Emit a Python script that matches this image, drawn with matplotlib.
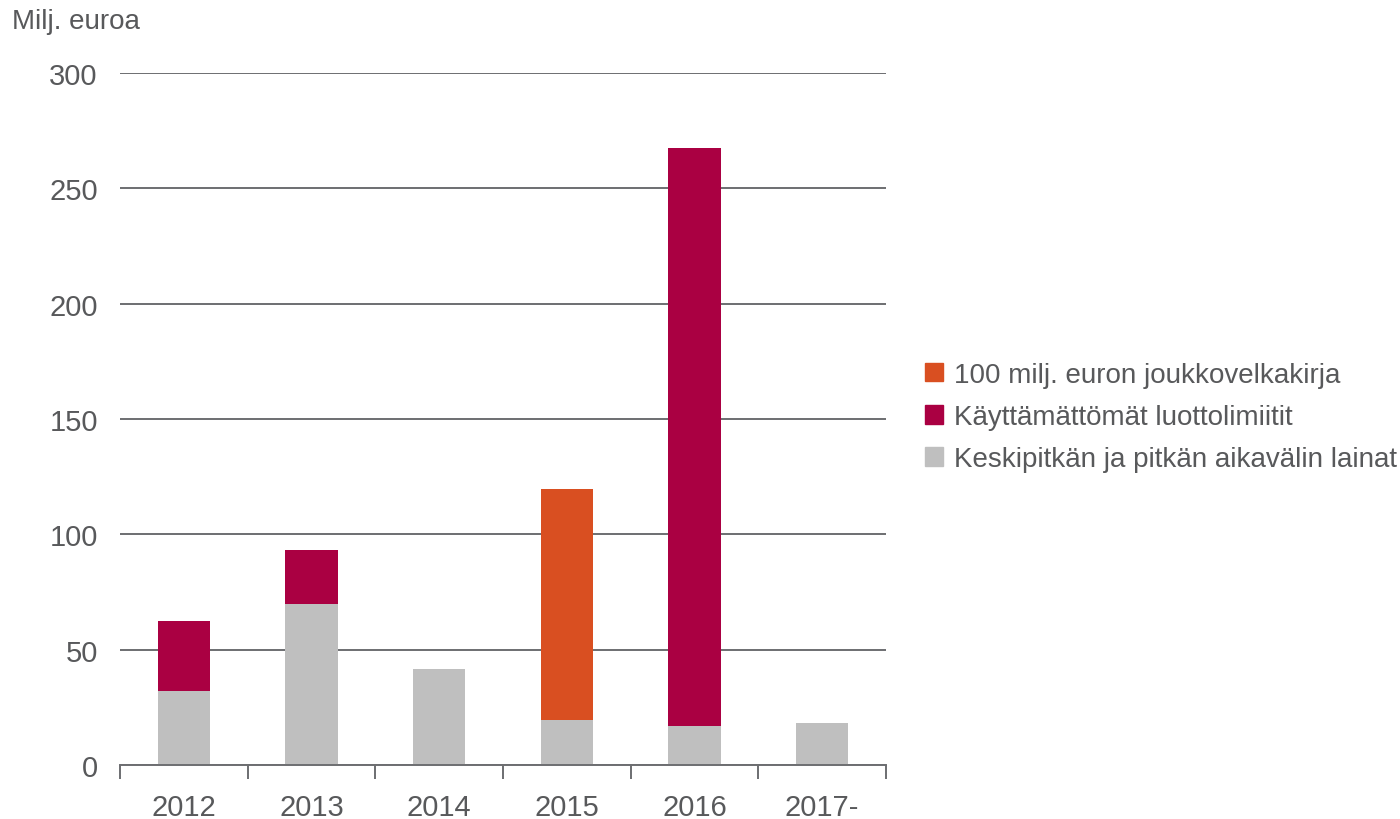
import matplotlib.pyplot as plt
from matplotlib.patches import Patch
import numpy as np

plt.rcParams['font.family'] = ['Liberation Sans', 'DejaVu Sans']

years = ['2012', '2013', '2014', '2015', '2016', '2017-']
lainat = [32, 70, 41.5, 19.5, 17, 18]
limiitit = [30.5, 23.3, 0, 0, 250.5, 0]
joukkovelkakirja = [0, 0, 0, 100.2, 0, 0]

GRAY = '#bfbfbf'
RED = '#aa0042'
ORANGE = '#d94f21'
TXT = '#58595b'
LINE = '#6d6e71'

fig = plt.figure(figsize=(14, 8.2), dpi=100)
ax = fig.add_axes([120 / 1400, 1 - 766 / 820, 766 / 1400, 692 / 820])

x = np.arange(len(years))
w = 0.41
ax.bar(x, lainat, w, color=GRAY, zorder=3)
ax.bar(x, limiitit, w, bottom=lainat, color=RED, zorder=3)
bottom2 = np.array(lainat) + np.array(limiitit)
ax.bar(x, joukkovelkakirja, w, bottom=bottom2, color=ORANGE, zorder=3)

ax.set_xlim(-0.5, len(years) - 0.5)
ax.set_ylim(0, 300)
ax.set_yticks(range(0, 301, 50))
ax.yaxis.grid(True, color=LINE, linewidth=1.4, zorder=0)
ax.set_axisbelow(True)

for s in ['left', 'right', 'top']:
    ax.spines[s].set_visible(False)
ax.spines['bottom'].set_color(LINE)
ax.spines['bottom'].set_linewidth(1.4)
ax.spines['bottom'].set_zorder(4)

ax.set_xticks(x)
ax.set_xticklabels(years)
ax.set_xticks(np.arange(-0.5, len(years), 1), minor=True)
ax.tick_params(axis='x', which='major', length=0, pad=20, labelsize=21, labelcolor=TXT)
ax.tick_params(axis='x', which='minor', length=10, width=1.4, color=LINE, direction='out')
ax.tick_params(axis='y', length=0, pad=16, labelsize=21, labelcolor=TXT)

fig.text(12 / 1400, 1 - 22 / 820, 'Milj. euroa', fontsize=20, color=TXT, va='center', ha='left')

handles = [Patch(color=ORANGE), Patch(color=RED), Patch(color=GRAY)]
labels = ['100 milj. euron joukkovelkakirja', 'Käyttämättömät luottolimiitit',
          'Keskipitkän ja pitkän aikavälin lainat']
fig.legend(handles, labels, loc='center left', bbox_to_anchor=(925 / 1400, 1 - 418 / 820),
           frameon=False, fontsize=20, labelcolor=TXT, handlelength=0.65, handleheight=0.65,
           handletextpad=0.4, labelspacing=0.58, borderaxespad=0, borderpad=0)

fig.savefig('out.png', dpi=100)
